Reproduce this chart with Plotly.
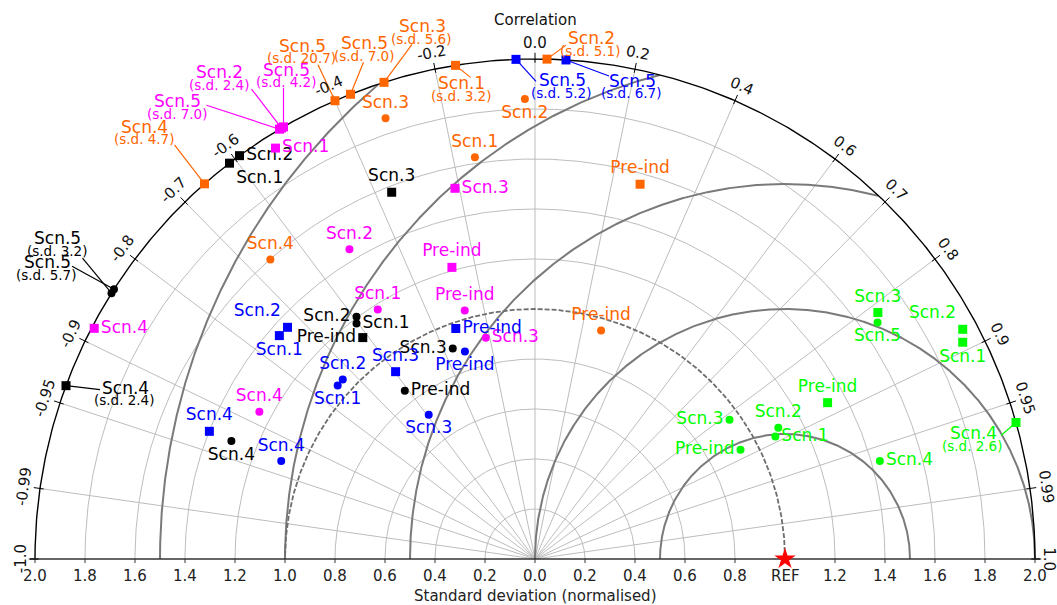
import numpy as np
import plotly.graph_objects as go

# ---------------- data (normalised std, correlation) ----------------
BLACK_SQ_LABELS = ["Scn.1", "Scn.2", "Scn.3", "Pre-ind", "Scn.4"]
BLACK_SQ_STD = [2.0, 2.0, 1.575, 1.122, 2.4]
BLACK_SQ_CORR = [-0.611, -0.591, -0.364, -0.614, -0.938]
BLACK_CI_LABELS = ["Scn.1", "Scn.2", "Scn.3", "Pre-ind", "Scn.4", "Scn.5", "Scn.5"]
BLACK_CI_STD = [1.182, 1.204, 0.904, 0.851, 1.303, 3.2, 5.7]
BLACK_CI_CORR = [-0.604, -0.593, -0.364, -0.612, -0.932, -0.847, -0.842]

MAGENTA_SQ_LABELS = ["Scn.1", "Scn.2", "Scn.3", "Pre-ind", "Scn.4", "Scn.5", "Scn.5"]
MAGENTA_SQ_STD = [1.944, 2.4, 1.517, 1.213, 1.99, 7.0, 4.2]
MAGENTA_SQ_CORR = [-0.534, -0.507, -0.211, -0.274, -0.886, -0.511, -0.503]
MAGENTA_CI_LABELS = ["Scn.1", "Scn.2", "Scn.3", "Pre-ind", "Scn.4"]
MAGENTA_CI_STD = [1.180, 1.444, 0.907, 1.033, 1.250]
MAGENTA_CI_CORR = [-0.533, -0.514, -0.217, -0.272, -0.882]

ORANGE_SQ_LABELS = ["Scn.1", "Scn.2", "Scn.3", "Pre-ind", "Scn.4", "Scn.5", "Scn.5"]
ORANGE_SQ_STD = [3.2, 5.1, 5.6, 1.557, 4.7, 20.7, 7.0]
ORANGE_SQ_CORR = [-0.159, 0.024, -0.302, 0.270, -0.661, -0.400, -0.369]
ORANGE_CI_LABELS = ["Scn.1", "Scn.2", "Scn.3", "Pre-ind", "Scn.4"]
ORANGE_CI_STD = [1.625, 1.840, 1.862, 0.951, 1.599]
ORANGE_CI_CORR = [-0.148, -0.022, -0.321, 0.278, -0.662]

BLUE_SQ_LABELS = ["Scn.1", "Scn.2", "Scn.3", "Pre-ind", "Scn.4", "Scn.5", "Scn.5"]
BLUE_SQ_STD = [1.358, 1.356, 0.934, 0.975, 1.399, 5.2, 6.7]
BLUE_SQ_CORR = [-0.753, -0.730, -0.597, -0.325, -0.931, -0.038, 0.062]
BLUE_CI_LABELS = ["Scn.1", "Scn.2", "Scn.3", "Pre-ind", "Scn.4"]
BLUE_CI_STD = [1.051, 1.052, 0.717, 0.876, 1.088]
BLUE_CI_CORR = [-0.751, -0.731, -0.593, -0.320, -0.933]

GREEN_SQ_LABELS = ["Scn.1", "Scn.2", "Scn.3", "Pre-ind", "Scn.4"]
GREEN_SQ_STD = [1.918, 1.942, 1.689, 1.327, 2.6]
GREEN_SQ_CORR = [0.892, 0.881, 0.812, 0.882, 0.962]
GREEN_CI_LABELS = ["Scn.1", "Scn.2", "Scn.3", "Pre-ind", "Scn.4", "Scn.5"]
GREEN_CI_STD = [1.079, 1.106, 0.957, 0.931, 1.434, 1.665]
GREEN_CI_CORR = [0.891, 0.880, 0.813, 0.883, 0.962, 0.823]

REF_STD = 1.0
REF_CORR = 1.0

CORR_TICKS = [-1.0, -0.99, -0.95, -0.9, -0.8, -0.7, -0.6, -0.4, -0.2, 0.0,
              0.2, 0.4, 0.6, 0.7, 0.8, 0.9, 0.95, 0.99, 1.0]
STD_TICKS = [-2.0, -1.8, -1.6, -1.4, -1.2, -1.0, -0.8, -0.6, -0.4, -0.2, 0.0,
             0.2, 0.4, 0.6, 0.8, 1.0, 1.2, 1.4, 1.6, 1.8, 2.0]
STD_TICK_TEXT = ["2.0", "1.8", "1.6", "1.4", "1.2", "1.0", "0.8", "0.6", "0.4", "0.2", "0.0",
                 "0.2", "0.4", "0.6", "0.8", "REF", "1.2", "1.4", "1.6", "1.8", "2.0"]
STD_GRID = [0.2, 0.4, 0.6, 0.8, 1.2, 1.4, 1.6, 1.8]
RMSD_CONTOURS = [0.5, 1.0, 1.5, 2.0, 2.5]
STD_MAX = 2.0

# ---------------- styling ----------------
FONT = "DejaVu Sans"
LABEL_SIZE = 17
SD_SIZE = 13.5
LIGHT = "#bdbdbd"
DARK = "#7a7a7a"
COLORS = {"black": "#000000", "magenta": "#ff00ff", "orange": "#ff6600",
          "blue": "#0000ff", "green": "#00ff00"}

SERIES = [
    ("black_sq", "black", "square", BLACK_SQ_LABELS, BLACK_SQ_STD, BLACK_SQ_CORR,
     ["bottom right", "middle right", "top center", "middle left", None]),
    ("black_ci", "black", "circle", BLACK_CI_LABELS, BLACK_CI_STD, BLACK_CI_CORR,
     ["middle right", "middle left", "middle left", "middle right", "bottom center", None, None]),
    ("magenta_sq", "magenta", "square", MAGENTA_SQ_LABELS, MAGENTA_SQ_STD, MAGENTA_SQ_CORR,
     ["middle right", None, "middle right", "top center", "middle right", None, None]),
    ("magenta_ci", "magenta", "circle", MAGENTA_CI_LABELS, MAGENTA_CI_STD, MAGENTA_CI_CORR,
     ["top center", "top center", "middle right", "top center", "top center"]),
    ("orange_sq", "orange", "square", ORANGE_SQ_LABELS, ORANGE_SQ_STD, ORANGE_SQ_CORR,
     [None, None, None, "top center", None, None, None]),
    ("orange_ci", "orange", "circle", ORANGE_CI_LABELS, ORANGE_CI_STD, ORANGE_CI_CORR,
     ["top center", "bottom center", "top center", "top center", "top center"]),
    ("blue_sq", "blue", "square", BLUE_SQ_LABELS, BLUE_SQ_STD, BLUE_SQ_CORR,
     ["bottom center", "top left", "top center", "middle right", "top center", None, None]),
    ("blue_ci", "blue", "circle", BLUE_CI_LABELS, BLUE_CI_STD, BLUE_CI_CORR,
     ["bottom center", "top center", "bottom center", "bottom center", "top center"]),
    ("green_sq", "green", "square", GREEN_SQ_LABELS, GREEN_SQ_STD, GREEN_SQ_CORR,
     ["bottom center", "top left", "top center", "top center", None]),
    ("green_ci", "green", "circle", GREEN_CI_LABELS, GREEN_CI_STD, GREEN_CI_CORR,
     ["middle right", "top center", "middle left", "middle left", "middle right", "bottom center"]),
]
MARKER_SIZE = {"square": 9, "circle": 8}

# leader lines for out-of-range points: (line end offset px, label offset px)
LEADERS = {
    ("orange_sq", 4): ((-30, -39), (-60, -57)),
    ("magenta_sq", 5): ((-73, -24), (-102, -28)),
    ("magenta_sq", 1): ((-30, -39), (-62, -56)),
    ("magenta_sq", 6): ((0, -39), (3, -57)),
    ("orange_sq", 5): ((-17, -36), (-33, -55)),
    ("orange_sq", 6): ((13, -32), (14, -51)),
    ("orange_sq", 2): ((28, -38), (38, -56)),
    ("orange_sq", 0): ((15, 12), (6, 18)),
    ("blue_sq", 5): ((20, 22), (46, 21)),
    ("orange_sq", 1): ((19, -14), (44, -21)),
    ("blue_sq", 6): ((43, 16), (66, 21)),
    ("black_ci", 5): ((-29, -35), (-54, -55)),
    ("black_ci", 6): ((-42, -23), (-67, -27)),
    ("black_sq", 4): ((34, 4), (59, 2)),
    ("green_sq", 4): ((-15, 13), (-43, 11)),
}

# ---------------- geometry ----------------
W, H = 1057, 605
S = 250.0              # px per unit
CX, CY = 535.0, 559.0  # pixel position of origin
XMIN, XMAX = -CX / S, (W - CX) / S
YMIN, YMAX = -(H - CY) / S, CY / S


def to_xy(std, corr):
    std = np.asarray(std, float)
    th = np.arccos(np.clip(np.asarray(corr, float), -1, 1))
    return std * np.cos(th), std * np.sin(th)


fig = go.Figure()


def line(x, y, color, width, dash=None):
    fig.add_trace(go.Scatter(x=x, y=y, mode="lines", hoverinfo="skip", showlegend=False,
                             line=dict(color=color, width=width, dash=dash)))


t = np.linspace(0, np.pi, 361)
for r in STD_GRID:
    line(r * np.cos(t), r * np.sin(t), LIGHT, 1)

sx, sy = [], []
for c in CORR_TICKS:
    if abs(c) == 1:
        continue
    th = np.arccos(c)
    sx += [0, STD_MAX * np.cos(th), None]
    sy += [0, STD_MAX * np.sin(th), None]
line(sx, sy, LIGHT, 1)

# RMSD contours centred on REF
phi = np.linspace(0, np.pi, 1441)
for d in RMSD_CONTOURS:
    x = REF_STD + d * np.cos(phi)
    y = d * np.sin(phi)
    inside = x ** 2 + y ** 2 <= STD_MAX ** 2 + 1e-9
    line(np.where(inside, x, np.nan), np.where(inside, y, np.nan), DARK, 2)

# reference std arc (dashed)
line(REF_STD * np.cos(t), REF_STD * np.sin(t), "#6e6e6e", 1.8, "5px,2px")

# outer boundary and bottom axis
line(STD_MAX * np.cos(t), STD_MAX * np.sin(t), "#000000", 1.4)
line([-STD_MAX - 0.02, STD_MAX + 0.02], [0, 0], "#333333", 1.3)

tx, ty = [], []
for v in STD_TICKS:
    tx += [v, v, None]
    ty += [0, -4 / S, None]
line(tx, ty, "#333333", 1)

cx_, cy_ = [], []
for c in CORR_TICKS:
    th = np.arccos(c)
    cx_ += [1.985 * np.cos(th), 2.025 * np.cos(th), None]
    cy_ += [1.985 * np.sin(th), 2.025 * np.sin(th), None]
line(cx_, cy_, "#000000", 1)

annotations = []

# correlation tick labels
for c in CORR_TICKS:
    th = np.arccos(c)
    s = f"{c:.2f}"
    if s.endswith("0"):
        s = s[:-1]
    rr = 2.055 if abs(c) == 1 else 2.065
    annotations.append(dict(x=rr * np.cos(th), y=rr * np.sin(th), text=s,
                            textangle=90 - np.degrees(th), showarrow=False,
                            font=dict(family=FONT, size=15, color="#111111"),
                            xanchor="center", yanchor="middle"))

# std tick labels
for v, s in zip(STD_TICKS, STD_TICK_TEXT):
    annotations.append(dict(x=v, y=-17 / S, text=s, showarrow=False,
                            font=dict(family=FONT, size=15, color="#222222"),
                            xanchor="center", yanchor="middle"))

annotations.append(dict(x=0, y=-37 / S, text="Standard deviation (normalised)", showarrow=False,
                        font=dict(family=FONT, size=15, color="#222222"),
                        xanchor="center", yanchor="middle"))
annotations.append(dict(x=0, y=(CY - 20) / S, text="Correlation", showarrow=False,
                        font=dict(family=FONT, size=15, color="#111111"),
                        xanchor="center", yanchor="middle"))

# data series
for key, cname, symbol, labels, stds, corrs, tpos in SERIES:
    col = COLORS[cname]
    shown = np.minimum(np.asarray(stds, float), STD_MAX)
    x, y = to_xy(shown, corrs)
    texts, poss = [], []
    for i, (lab, sd) in enumerate(zip(labels, stds)):
        if (key, i) in LEADERS:
            texts.append("")
            poss.append("top center")
            (lx, ly), (nx, ny) = LEADERS[(key, i)]
            line([x[i], x[i] + lx / S], [y[i], y[i] - ly / S], col, 1.2)
            annotations.append(dict(x=x[i] + nx / S, y=y[i] - ny / S, text=lab, showarrow=False,
                                    font=dict(family=FONT, size=LABEL_SIZE, color=col),
                                    xanchor="center", yanchor="middle"))
            annotations.append(dict(x=x[i] + (nx - 1) / S, y=y[i] - (ny + 12.5) / S,
                                    text=f"(s.d. {sd:.1f})", showarrow=False,
                                    font=dict(family=FONT, size=SD_SIZE, color=col),
                                    xanchor="center", yanchor="middle"))
        else:
            texts.append(lab)
            poss.append(tpos[i])
    fig.add_trace(go.Scatter(x=x, y=y, mode="markers+text", text=texts, textposition=poss,
                             marker=dict(symbol=symbol, size=MARKER_SIZE[symbol], color=col),
                             textfont=dict(family=FONT, size=LABEL_SIZE, color=col),
                             cliponaxis=False, showlegend=False, hoverinfo="skip"))

# reference point
rx, ry = to_xy([REF_STD], [REF_CORR])
fig.add_trace(go.Scatter(x=rx, y=ry, mode="markers", cliponaxis=False, showlegend=False,
                         marker=dict(symbol="star", size=16, color="#ff0000"), hoverinfo="skip"))

fig.update_layout(
    width=W, height=H, margin=dict(l=0, r=0, t=0, b=0),
    paper_bgcolor="white", plot_bgcolor="white",
    xaxis=dict(range=[XMIN, XMAX], visible=False, fixedrange=True),
    yaxis=dict(range=[YMIN, YMAX], visible=False, fixedrange=True),
    annotations=annotations, showlegend=False,
)

fig.write_html("out.html")
